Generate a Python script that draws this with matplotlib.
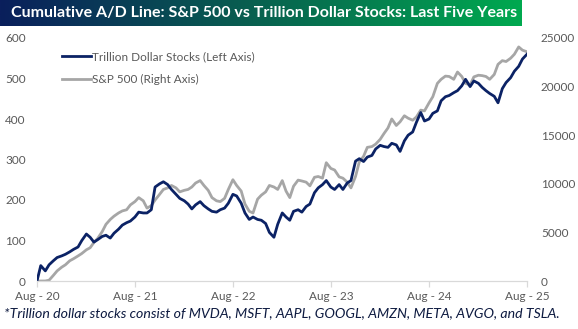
import matplotlib
matplotlib.use('Agg')
import matplotlib.pyplot as plt
import matplotlib.dates as mdates
from matplotlib.colors import LinearSegmentedColormap
from matplotlib.lines import Line2D
import numpy as np
import pandas as pd

plt.rcParams.update({
    'font.family': ['Lato', 'DejaVu Sans'],
    'axes.unicode_minus': False,
})

# ── data: semi-monthly readings, Aug 2020 - Aug 2025 ──
dates = pd.date_range('2020-08-01', '2025-08-01', freq='SMS')

trillion_ad = [
    0, 38, 25, 40, 50, 58, 62, 66, 72, 78,
    84, 100, 116, 108, 96, 102, 110, 113, 106, 118,
    128, 138, 144, 148, 158, 170, 168, 168, 176, 232,
    240, 245, 238, 226, 214, 204, 198, 190, 178, 188,
    196, 186, 178, 172, 170, 176, 180, 192, 214, 210,
    192, 168, 152, 158, 152, 150, 142, 120, 108, 140,
    168, 158, 150, 172, 176, 170, 184, 190, 218, 230,
    238, 248, 232, 226, 238, 226, 242, 248, 296, 302,
    295, 306, 310, 326, 335, 332, 330, 340, 336, 320,
    346, 360, 368, 392, 416, 395, 400, 414, 420, 445,
    455, 458, 465, 470, 482, 498, 480, 494, 488, 478,
    470, 463, 456, 440, 475, 490, 502, 518, 530, 548,
    560,
]

spx_ad = [
    0, 0, 0, 80, 580, 1040, 1420, 1670, 2080, 2290,
    2580, 2830, 3210, 3420, 3960, 4380, 5080, 5830, 6330, 6670,
    7000, 7210, 7330, 7830, 8170, 8580, 8250, 7500, 7750, 8330,
    8920, 9420, 9580, 9830, 9580, 9170, 9330, 9420, 9670, 10080,
    10330, 9830, 9330, 8580, 8250, 8170, 8500, 9420, 10420, 9830,
    9250, 7920, 7170, 7000, 8420, 8830, 9170, 9830, 9670, 9420,
    10330, 9250, 8580, 9750, 10380, 10290, 10170, 9790, 10670, 10750,
    10580, 12170, 11580, 11420, 10710, 10580, 10170, 9580, 10750, 12250,
    12830, 13750, 13830, 14080, 14580, 15170, 15750, 16670, 16000, 16380,
    17000, 16750, 16540, 16880, 17580, 17500, 18330, 18960, 20330, 20750,
    21080, 21040, 20750, 21500, 21040, 20330, 20170, 21000, 21170, 21130,
    21040, 20750, 21250, 22290, 22670, 22580, 22920, 23330, 24080, 23750,
    23580,
]

left_ticks = [0, 100, 200, 300, 400, 500, 600]
right_ticks = [0, 5000, 10000, 15000, 20000, 25000]
year_ticks = pd.to_datetime(['2020-08-01', '2021-08-01', '2022-08-01',
                             '2023-08-01', '2024-08-01', '2025-08-01'])

title = 'Cumulative A/D Line: S&P 500 vs Trillion Dollar Stocks: Last Five Years'
note = '*Trillion dollar stocks consist of MVDA, MSFT, AAPL, GOOGL, AMZN, META, AVGO, and TSLA.'

NAVY = '#0b2265'
GREY = '#a6a6a6'
TXT = '#595959'

W, H = 578, 329
fig = plt.figure(figsize=(W / 100, H / 100), dpi=100, facecolor='white')

# title banner with navy -> green gradient
tax = fig.add_axes([0, 1 - 26 / H, 522 / W, 26 / H])
grad = np.linspace(0, 1, 256).reshape(1, -1)
cmap = LinearSegmentedColormap.from_list('bar', ['#0a1f5c', '#08624f', '#00a94f'])
tax.imshow(grad, aspect='auto', cmap=cmap, extent=[0, 1, 0, 1])
tax.set_axis_off()
ttl = tax.text(0.022, 0.5, title, color='white', fontweight='bold',
               fontsize=11, va='center', ha='left', transform=tax.transAxes)

ax = fig.add_axes([37 / W, 1 - 281 / H, 490 / W, 243 / H])
ax2 = ax.twinx()

ax.plot(dates, trillion_ad, color=NAVY, lw=2.0, zorder=2)
ax2.plot(dates, spx_ad, color=GREY, lw=2.0, zorder=2)
ax.set_zorder(ax2.get_zorder() + 1)
ax.patch.set_visible(False)

ax.set_xlim(year_ticks[0], year_ticks[-1])
ax.set_ylim(0, 600)
ax2.set_ylim(0, 25000)
ax.set_yticks(left_ticks)
ax2.set_yticks(right_ticks)
ax.set_xticks(year_ticks)
ax.xaxis.set_major_formatter(mdates.DateFormatter('%b - %y'))

for a in (ax, ax2):
    for s in a.spines.values():
        s.set_visible(False)
    a.tick_params(axis='y', length=0, labelsize=8.5, labelcolor=TXT)
ax.spines['bottom'].set_visible(True)
ax.spines['bottom'].set_color('#d9d9d9')
ax.spines['bottom'].set_linewidth(0.9)
ax.tick_params(axis='y', pad=8)
ax2.tick_params(axis='y', pad=10)
ax.tick_params(axis='x', length=4, color='#d9d9d9', width=0.9,
               labelsize=8.5, labelcolor=TXT, pad=3)

handles = [Line2D([], [], color=NAVY, lw=2.0), Line2D([], [], color=GREY, lw=2.0)]
ax.legend(handles, ['Trillion Dollar Stocks (Left Axis)', 'S&P 500 (Right Axis)'],
          loc='upper left', bbox_to_anchor=(0.03, 0.99), frameon=False,
          fontsize=8.5, labelcolor=TXT, handlelength=2.4, handletextpad=0.15,
          labelspacing=1.0, borderaxespad=0.5)

ft = fig.text(4 / W, 1 - 313 / H, note, style='italic', color='#0d1a40',
              fontsize=10, va='center', ha='left')

# fit banner and footnote text to their widths
fig.canvas.draw()
r = fig.canvas.get_renderer()
for t, width in ((ttl, 505), (ft, 559)):
    w = t.get_window_extent(r).width
    t.set_fontsize(t.get_fontsize() * width / w)

fig.savefig('out.png', dpi=100, facecolor='white')
